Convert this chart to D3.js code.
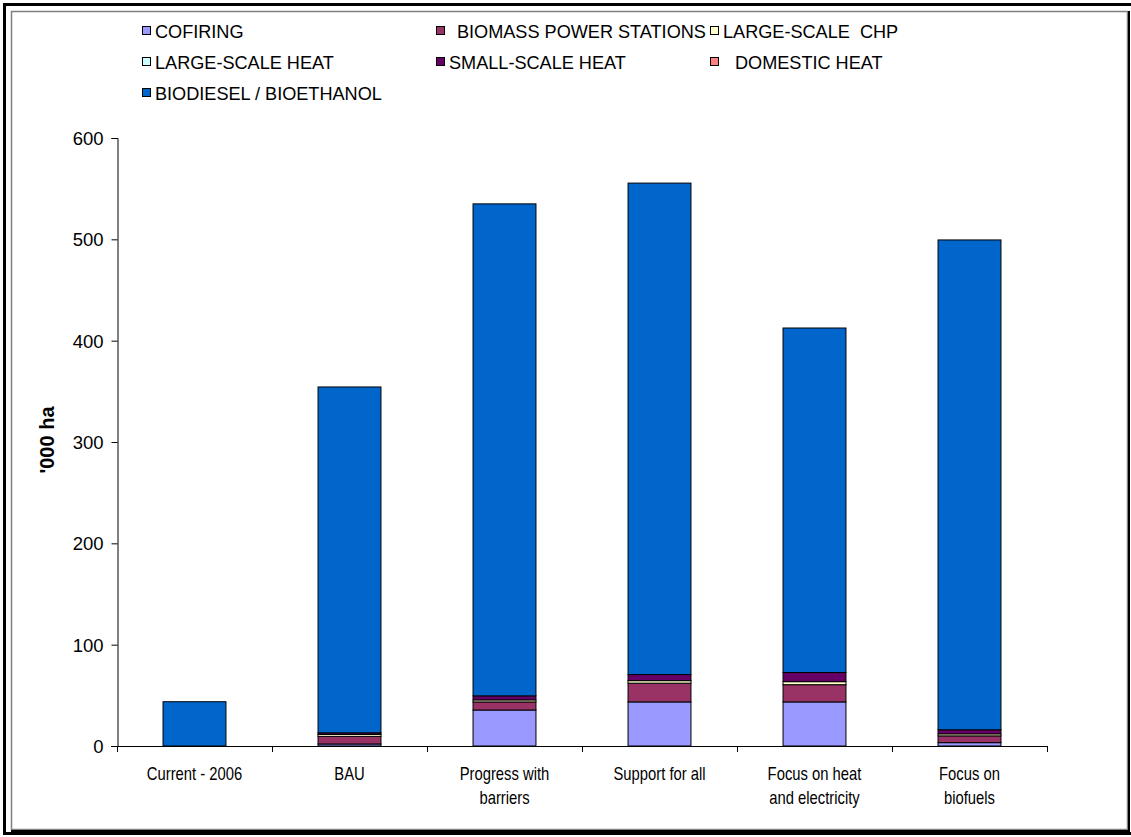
<!DOCTYPE html>
<html>
<head>
<meta charset="utf-8">
<script src="https://cdn.jsdelivr.net/npm/d3@7/dist/d3.min.js"></script>
<style>
  html, body { margin: 0; padding: 0; background: #fff; }
  svg { display: block; font-family: Arial, "Liberation Sans", sans-serif; }
</style>
</head>
<body>
<svg id="chart" width="1131" height="837"></svg>
<script>
// ---------- data ----------
const categories = ["Current - 2006", "BAU", "Progress with barriers", "Support for all", "Focus on heat and electricity", "Focus on biofuels"];
const categoryLines = [["Current - 2006"], ["BAU"], ["Progress with", "barriers"], ["Support for all"], ["Focus on heat", "and electricity"], ["Focus on", "biofuels"]];
const seriesNames = ["COFIRING", "BIOMASS POWER STATIONS", "LARGE-SCALE  CHP", "LARGE-SCALE HEAT", "SMALL-SCALE HEAT", "DOMESTIC HEAT", "BIODIESEL / BIOETHANOL"];
const seriesColors = ["#9999FF", "#993366", "#FFFFCC", "#CCFFFF", "#660066", "#FF8080", "#0066CC"];
const cofiring   = [0, 2, 35.5, 43.5, 43.5, 3.3];
const biomass    = [0, 7.5, 8, 18.5, 17, 6.7];
const chp        = [0, 2, 2, 2.5, 3, 2];
const lsHeat     = [0, 0, 0, 0, 0, 0];
const ssHeat     = [0, 1.5, 4, 6, 9, 4];
const domestic   = [0, 0, 0, 0, 0, 0];
const biodiesel  = [43.7, 341.3, 485.5, 485, 340, 483.4];
const yTicks = [0, 100, 200, 300, 400, 500, 600];
const yLabel = "'000 ha";

const seriesValues = [cofiring, biomass, chp, lsHeat, ssHeat, domestic, biodiesel];

// ---------- layout ----------
const svg = d3.select("#chart");

// outer frame
svg.append("rect").attr("x", 4.5).attr("y", 4.5).attr("width", 1130).attr("height", 829)
  .attr("fill", "none").attr("stroke", "#000").attr("stroke-width", 3);
svg.append("rect").attr("x", 11.5).attr("y", 11.5).attr("width", 1116).attr("height", 818)
  .attr("fill", "#fff").attr("stroke", "#808080").attr("stroke-width", 1.5);
svg.append("line").attr("x1", 1129).attr("x2", 1129).attr("y1", 11).attr("y2", 832)
  .attr("stroke", "#000").attr("stroke-width", 2);
svg.append("line").attr("x1", 11).attr("x2", 1130).attr("y1", 831).attr("y2", 831)
  .attr("stroke", "#000").attr("stroke-width", 2);

const x = d3.scaleBand().domain(categories).range([117, 1047]).paddingInner(0.594).paddingOuter(0.297);
const y = d3.scaleLinear().domain([0, 600]).range([746, 138]);

// stack
const rows = categories.map((c, i) => {
  const r = { cat: c };
  seriesNames.forEach((s, k) => r[s] = seriesValues[k][i]);
  return r;
});
const stacked = d3.stack().keys(seriesNames)(rows);

const gBars = svg.append("g");
stacked.forEach((layer, k) => {
  gBars.selectAll(null)
    .data(layer.filter(d => d[1] - d[0] > 0))
    .join("rect")
    .attr("x", d => x(d.data.cat))
    .attr("width", x.bandwidth())
    .attr("y", d => y(d[1]))
    .attr("height", d => y(d[0]) - y(d[1]))
    .attr("fill", seriesColors[k])
    .attr("stroke", "#000")
    .attr("stroke-width", 1);
});

// y axis
const yAxis = d3.axisLeft(y).tickValues(yTicks).tickSizeOuter(0).tickSize(6).tickPadding(8);
const gy = svg.append("g").attr("transform", "translate(117.5,0)").call(yAxis);
gy.selectAll("text").attr("font-size", 18.5).attr("fill", "#000")
  .attr("font-family", "Arial, 'Liberation Sans', sans-serif").attr("dy", "0.35em");
gy.selectAll("line, path").attr("stroke", "#000");

// x axis (custom, ticks at category boundaries)
const gx = svg.append("g");
gx.append("line").attr("x1", 111).attr("x2", 1047).attr("y1", 746.5).attr("y2", 746.5).attr("stroke", "#000");
const bounds = categories.map(c => x(c) + x.bandwidth() / 2 - x.step() / 2)
  .concat([x(categories[categories.length - 1]) + x.bandwidth() / 2 + x.step() / 2]);
gx.selectAll(null).data(bounds).join("line")
  .attr("x1", d => Math.round(d) + 0.5).attr("x2", d => Math.round(d) + 0.5)
  .attr("y1", 746).attr("y2", 752).attr("stroke", "#000");
categories.forEach((c, i) => {
  const cx = x(c) + x.bandwidth() / 2;
  const t = gx.append("text")
    .attr("transform", `translate(${cx},780) scale(0.8,1)`)
    .attr("text-anchor", "middle")
    .attr("font-size", 18.5)
    .attr("fill", "#000");
  categoryLines[i].forEach((ln, j) => {
    t.append("tspan").attr("x", 0).attr("dy", j === 0 ? 0 : 24).text(ln);
  });
});

// y label
svg.append("text")
  .attr("transform", "translate(54,440) rotate(-90)")
  .attr("text-anchor", "middle")
  .attr("font-size", 20)
  .attr("font-weight", "bold")
  .attr("fill", "#000")
  .text(yLabel);

// legend
const legendPos = [
  [142, 31, 155], [436, 31, 457], [710, 31, 723],
  [142, 62, 155], [436, 62, 449], [710, 62, 735],
  [142, 93, 155]
];
const gl = svg.append("g");
seriesNames.forEach((s, k) => {
  const [mx, my, tx] = legendPos[k];
  gl.append("rect").attr("x", mx + 0.5).attr("y", my - 4.5).attr("width", 8).attr("height", 8)
    .attr("fill", seriesColors[k]).attr("stroke", "#000").attr("stroke-width", 1);
  gl.append("text").attr("transform", `translate(${tx},${my + 6.5}) scale(0.98,1)`)
    .attr("font-size", 18.5).attr("fill", "#000")
    .attr("xml:space", "preserve").text(s);
});
</script>
</body>
</html>
